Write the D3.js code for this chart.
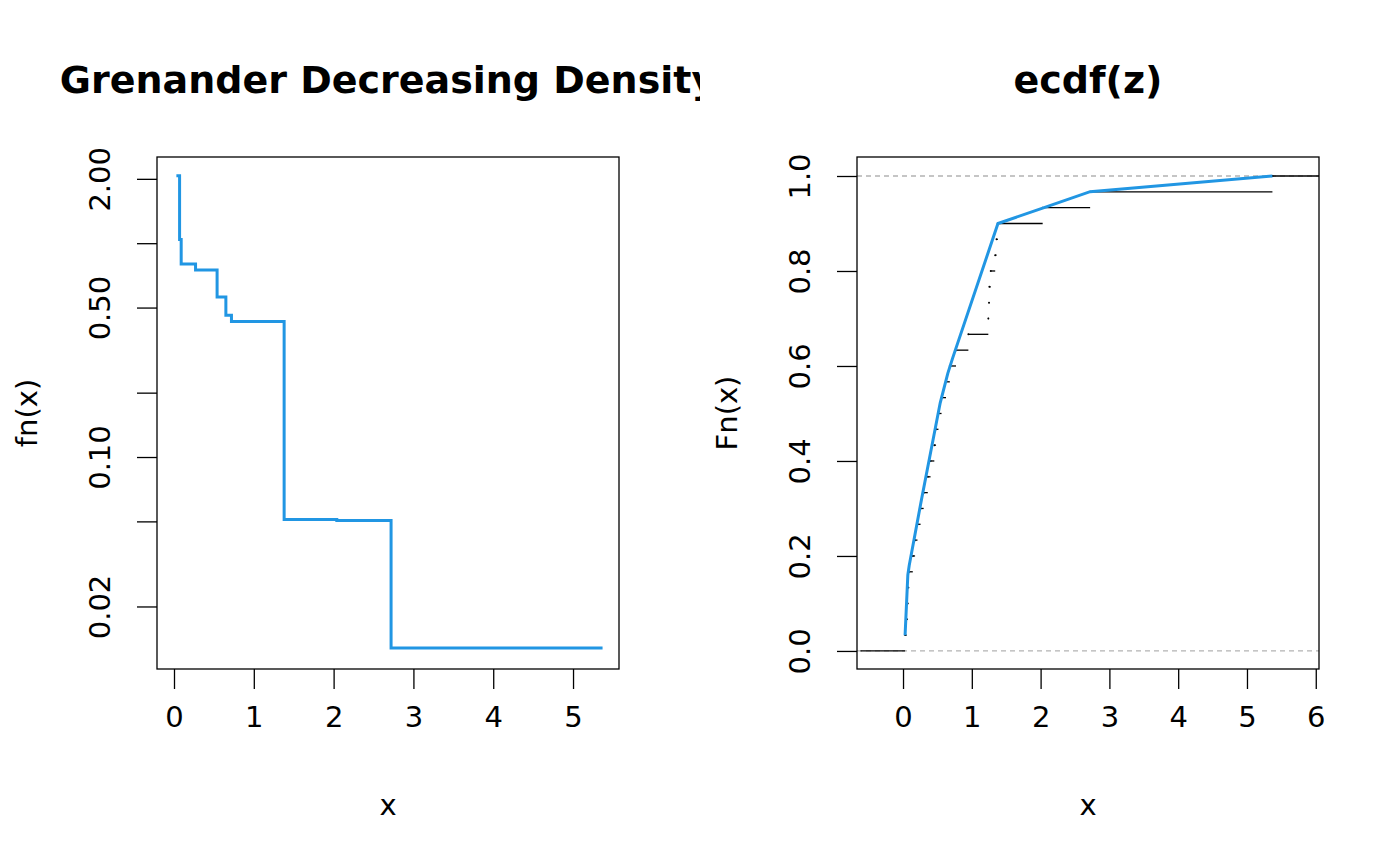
<!DOCTYPE html>
<html><head><meta charset="utf-8">
<script src="https://cdn.jsdelivr.net/npm/d3@7"></script>
<style>body{margin:0;background:#fff}text{font-family:"DejaVu Sans",sans-serif}</style>
</head><body>
<svg width="1400" height="866"></svg>
<script>
// Grenander density steps (knot x, density value on [x_i, x_{i+1}))
const densX = [0.03, 0.07, 0.09, 0.27, 0.54, 0.65, 0.72, 1.38, 2.04, 2.72, 5.37];
const densY = [2.07, 1.04, 0.80, 0.75, 0.56, 0.46, 0.43, 0.051, 0.0505, 0.0128, 0.0128];
// sorted sample for ecdf
const zVals = [0.03, 0.055, 0.068, 0.075, 0.09, 0.142, 0.175, 0.21, 0.255, 0.30,
  0.36, 0.40, 0.455, 0.48, 0.515, 0.56, 0.625, 0.68, 0.77, 0.95,
  1.24, 1.25, 1.255, 1.275, 1.34, 1.36, 1.377, 2.03, 2.72, 5.37];
// least concave majorant knots
const lcmX = [0.03, 0.07, 0.09, 0.27, 0.54, 0.65, 0.72, 1.38, 2.04, 2.72, 5.37];
const lcmF = [0.033, 0.16, 0.18, 0.32, 0.522, 0.584, 0.616, 0.9, 0.933, 0.967, 1.0];
const leftXTicks = [0, 1, 2, 3, 4, 5];
const leftYTicks = [2, 1, 0.5, 0.2, 0.1, 0.05, 0.02];
const leftYLabels = {2: "2.00", 0.5: "0.50", 0.1: "0.10", 0.02: "0.02"};
const rightXTicks = [0, 1, 2, 3, 4, 5, 6];
const rightYTicks = [0, 0.2, 0.4, 0.6, 0.8, 1.0];

const blue = "#2196e3";
const fs = 29;
const svg = d3.select("svg");

svg.append("clipPath").attr("id", "lclip").append("rect")
    .attr("x", 0).attr("y", 0).attr("width", 700).attr("height", 866);

function styleAxes(axes) {
  axes.forEach(a => {
    a.select(".domain").remove();
    a.selectAll("line").attr("stroke-width", 1.3);
    a.selectAll("text").attr("font-size", fs).attr("fill", "#000");
  });
}

// ---- left panel
const x1 = d3.scaleLinear().domain([-0.213, 5.576]).range([157, 619]);
const y1 = d3.scaleLog().domain([0.0102, 2.53]).range([669, 157]);
const L = svg.append("g").attr("clip-path", "url(#lclip)");

L.append("text").attr("x", 388).attr("y", 93).attr("text-anchor", "middle")
    .attr("font-size", 38).attr("font-weight", "bold").text("Grenander Decreasing Density");

const dens = densX.map((d, i) => [d, densY[i]]);
L.append("path").datum(dens)
    .attr("d", d3.line().x(d => x1(d[0])).y(d => y1(d[1])).curve(d3.curveStepAfter))
    .attr("fill", "none").attr("stroke", blue).attr("stroke-width", 3);

L.append("rect").attr("x", 157).attr("y", 157).attr("width", 462).attr("height", 512)
    .attr("fill", "none").attr("stroke", "#000").attr("stroke-width", 1.3);

const ax1 = L.append("g").attr("transform", "translate(0,669)")
    .call(d3.axisBottom(x1).tickValues(leftXTicks).tickSize(20).tickPadding(17).tickFormat(d3.format("d")));
const ay1 = L.append("g").attr("transform", "translate(157,0)")
    .call(d3.axisLeft(y1).tickValues(leftYTicks).tickSize(20).tickFormat(d => leftYLabels[d] || ""));
styleAxes([ax1, ay1]);
ay1.selectAll(".tick text").attr("transform", "rotate(-90)").attr("x", 0).attr("y", -57)
    .attr("dy", "0.35em").attr("text-anchor", "middle");
L.append("text").attr("x", 388).attr("y", 815).attr("text-anchor", "middle").attr("font-size", fs).text("x");
L.append("text").attr("transform", "translate(37,413) rotate(-90)").attr("text-anchor", "middle")
    .attr("font-size", fs).text("fn(x)");

// ---- right panel
const x2 = d3.scaleLinear().domain([-0.669, 6.047]).range([857, 1319]);
const y2 = d3.scaleLinear().domain([-0.038, 1.04]).range([669, 157]);
const R = svg.append("g");
R.append("text").attr("x", 1088).attr("y", 93).attr("text-anchor", "middle")
    .attr("font-size", 38).attr("font-weight", "bold").text("ecdf(z)");

[0, 1].forEach(v => R.append("line").attr("x1", 857).attr("x2", 1319)
    .attr("y1", y2(v)).attr("y2", y2(v)).attr("stroke", "#b3b3b3")
    .attr("stroke-width", 1.3).attr("stroke-dasharray", "5,4"));

const n = zVals.length;
const segs = [[x2.invert(857) + 0.05, zVals[0], 0]];
zVals.forEach((z, i) => segs.push([z, i < n - 1 ? zVals[i + 1] : x2.invert(1319), (i + 1) / n]));
R.selectAll(".seg").data(segs).enter().append("line")
    .attr("x1", d => x2(d[0])).attr("x2", d => x2(d[1]))
    .attr("y1", d => y2(d[2])).attr("y2", d => y2(d[2]))
    .attr("stroke", "#000").attr("stroke-width", 1.3);
R.selectAll(".pt").data(zVals).enter().append("circle")
    .attr("cx", d => x2(d)).attr("cy", (d, i) => y2((i + 1) / n)).attr("r", 1).attr("fill", "#000");

const lcm = lcmX.map((d, i) => [d, lcmF[i]]);
R.append("path").datum(lcm)
    .attr("d", d3.line().x(d => x2(d[0])).y(d => y2(d[1])))
    .attr("fill", "none").attr("stroke", blue).attr("stroke-width", 3);

R.append("rect").attr("x", 857).attr("y", 157).attr("width", 462).attr("height", 512)
    .attr("fill", "none").attr("stroke", "#000").attr("stroke-width", 1.3);

const ax2 = R.append("g").attr("transform", "translate(0,669)")
    .call(d3.axisBottom(x2).tickValues(rightXTicks).tickSize(20).tickPadding(17).tickFormat(d3.format("d")));
const ay2 = R.append("g").attr("transform", "translate(857,0)")
    .call(d3.axisLeft(y2).tickValues(rightYTicks).tickSize(20).tickFormat(d3.format(".1f")));
styleAxes([ax2, ay2]);
ay2.selectAll(".tick text").attr("transform", "rotate(-90)").attr("x", 0).attr("y", -57)
    .attr("dy", "0.35em").attr("text-anchor", "middle");
R.append("text").attr("x", 1088).attr("y", 815).attr("text-anchor", "middle").attr("font-size", fs).text("x");
R.append("text").attr("transform", "translate(737,413) rotate(-90)").attr("text-anchor", "middle")
    .attr("font-size", fs).text("Fn(x)");
</script>
</body></html>
